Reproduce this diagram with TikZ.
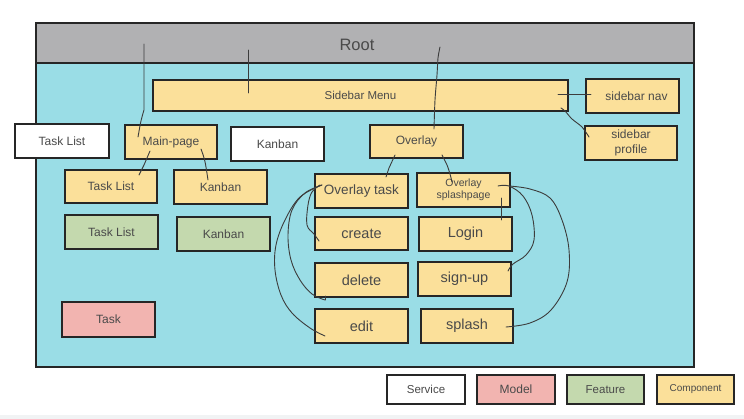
\documentclass[tikz,border=0pt]{standalone}
\usepackage{fontspec}
\setmainfont{Liberation Sans}
\usetikzlibrary{calc}
\definecolor{rootgray}{HTML}{B1B1B3}
\definecolor{bodycyan}{HTML}{9ADDE6}
\definecolor{compyellow}{HTML}{FBE09A}
\definecolor{featgreen}{HTML}{C4D9AE}
\definecolor{modelpink}{HTML}{F2B4B0}
\definecolor{edgedark}{HTML}{262626}
\definecolor{inkgray}{HTML}{4A4A4A}
\definecolor{stripgray}{HTML}{F1F3F4}
\tikzset{
  box/.style={draw=edgedark, line width=2.4pt, anchor=north west, inner sep=0pt,
              outer sep=0pt, text=inkgray, align=center},
  comp/.style={box, fill=compyellow},
  serv/.style={box, fill=white},
  feat/.style={box, fill=featgreen},
  model/.style={box, fill=modelpink},
  wire/.style={draw=edgedark!90, line width=0.9pt, line cap=round, line join=round},
  fs/.style={font=\fontsize{#1}{#1*1.25}\selectfont},
}
% place a box by its top-left and bottom-right corners (in px)
\newcommand{\pbox}[6]{%
  \node[#1, minimum width={(#4)-(#2)}, minimum height={(#5)-(#3)}] (#6) at (#2,#3)}
\begin{document}
\begin{tikzpicture}[x=1pt,y=-1pt]
\useasboundingbox (0,0) rectangle (744,419);
\fill[white] (0,0) rectangle (744,419);
\fill[stripgray] (0,415) rectangle (744,419);

% root container
\node[box, fill=bodycyan, minimum width=658pt, minimum height=344pt] (rootbody) at (36,23) {};
\node[box, fill=rootgray, minimum width=658pt, minimum height=40pt] (roothead) at (36,23) {};
\node[text=inkgray, font=\fontsize{16.5}{18}\selectfont] (roottitle) at (357,45) {Root};

% sidebar
\pbox{comp, font=\fontsize{11.5}{13}\selectfont}{153}{80}{568}{111}{sidebar}{Sidebar Menu};
\pbox{comp, font=\fontsize{12}{14}\selectfont}{586}{79}{679}{113}{sidenav}{\hspace*{8pt}sidebar nav};
\pbox{comp, font=\fontsize{12}{15}\selectfont}{585}{126}{677}{160}{sideprof}{sidebar\\profile};

% pages and services
\pbox{serv, font=\fontsize{12}{14}\selectfont}{15}{124}{109}{158}{svctask}{Task List};
\pbox{comp, font=\fontsize{12}{14}\selectfont}{125}{125}{217}{159}{mainpage}{Main-page};
\pbox{serv, font=\fontsize{12}{14}\selectfont}{231}{127}{324}{161}{svckanban}{Kanban};
\pbox{comp, font=\fontsize{12}{14}\selectfont}{370}{125}{463}{158}{overlay}{Overlay};

\pbox{comp, font=\fontsize{12}{14}\selectfont}{65}{170}{157}{203}{ctask}{Task List};
\pbox{comp, font=\fontsize{12}{14}\selectfont}{174}{170}{267}{204}{ckanban}{Kanban};
\pbox{feat, font=\fontsize{12}{14}\selectfont}{65}{215}{158}{249}{ftask}{Task List};
\pbox{feat, font=\fontsize{12}{14}\selectfont}{177}{217}{270}{251}{fkanban}{Kanban};
\pbox{model, font=\fontsize{12}{14}\selectfont}{62}{302}{155}{337}{mtask}{Task};

% overlay children
\pbox{comp, font=\fontsize{13.5}{15}\selectfont}{315}{174}{408}{208}{otask}{Overlay task};
\pbox{comp, font=\fontsize{10.5}{12}\selectfont}{417}{173}{510}{207}{osplash}{Overlay\\splashpage};
\pbox{comp, font=\fontsize{14.5}{16}\selectfont}{315}{217}{408}{250}{ocreate}{create};
\pbox{comp, font=\fontsize{14.5}{16}\selectfont}{419}{217}{512}{251}{ologin}{Login};
\pbox{comp, font=\fontsize{14.5}{16}\selectfont}{315}{263}{408}{297}{odelete}{delete};
\pbox{comp, font=\fontsize{14.5}{16}\selectfont}{418}{262}{511}{296}{osignup}{sign-up};
\pbox{comp, font=\fontsize{14.5}{16}\selectfont}{315}{309}{408}{343}{oedit}{edit};
\pbox{comp, font=\fontsize{14.5}{16}\selectfont}{421}{309}{513}{343}{osplashp}{splash};

% legend
\pbox{serv, font=\fontsize{11.5}{13}\selectfont}{387}{375}{465}{404}{lgserv}{Service};
\pbox{model, font=\fontsize{12}{13}\selectfont}{477}{375}{555}{404}{lgmodel}{Model};
\pbox{feat, font=\fontsize{11.5}{13}\selectfont}{567}{375}{644}{404}{lgfeat}{Feature};
\pbox{comp, font=\fontsize{10}{11}\selectfont}{657}{375}{734}{404}{lgcomp}{Component};

% hand-drawn links
\coordinate (r1) at (144,44);
\coordinate (r2) at (248,50);
\coordinate (r3) at (440,47);
\draw[wire] (r1) -- (144,110) .. controls (141,120) .. ($(mainpage.north west)+(13,12)$);
\draw[wire] (r2) -- ($(sidebar.north west)+(95,13)$);
\draw[wire] plot[smooth] coordinates {(r3) (438,58) (437,75) (435,100) ($(overlay.north west)+(64,4)$)};
\draw[wire] ($(sidebar.north east)+(-10,14)$) -- ($(sidenav.north west)+(5,15)$);
\draw[wire] plot[smooth] coordinates {($(sidebar.north east)+(-7,28)$) (565,111) (572,119) (582,127) ($(sideprof.north west)+(4,11)$)};
\draw[wire] ($(mainpage.north west)+(25,26)$) -- (144,165) -- ($(ctask.north west)+(74,5)$);
\draw[wire] ($(mainpage.north west)+(76,24)$) .. controls (205,160) .. ($(ckanban.north west)+(34,10)$);
\draw[wire] ($(overlay.north west)+(25,30)$) -- (389,168) -- ($(otask.north west)+(71,3)$);
\draw[wire] plot[smooth] coordinates {($(overlay.north west)+(72,30)$) (447,165) (450,174) ($(osplash.north west)+(35,9)$)};
\draw[wire] ($(osplash.north west)+(84,25)$) -- ($(ologin.north west)+(82,3)$);
% splashpage to sign-up
\draw[wire] plot[smooth, tension=0.6] coordinates {($(osplash.north west)+(81,13)$) (509,186) (523,196) (532,215) (534,240) (526,255) (513,264) ($(osignup.north west)+(90,9)$)};
% splashpage to splash
\draw[wire] plot[smooth, tension=0.6] coordinates {(509,186) (530,189) (550,198) (562,220) (569,250) (567,282) (551,310) (530,323) ($(osplashp.north west)+(85,18)$)};
% overlay task to create
\draw[wire] plot[smooth, tension=0.6] coordinates {($(otask.north west)+(5,11)$) (312,192) (308,205) (307,225) (314,234) ($(ocreate.north west)+(4,24)$)};
% overlay task to delete
\draw[wire] plot[smooth, tension=0.6] coordinates {($(otask.north west)+(7,11)$) (305,193) (292,210) (288,235) (291,260) (300,280) (312,294) ($(odelete.north west)+(10,37)$)};
\draw[wire] ($(odelete.north west)+(10,37)$) -- ($(odelete.north west)+(10,33)$);
% overlay task to edit
\draw[wire] plot[smooth, tension=0.6] coordinates {($(otask.north west)+(7,11)$) (300,197) (285,220) (276,245) (275,270) (281,295) (292,313) (310,328) ($(oedit.north west)+(10,27)$)};
\end{tikzpicture}
\end{document}
